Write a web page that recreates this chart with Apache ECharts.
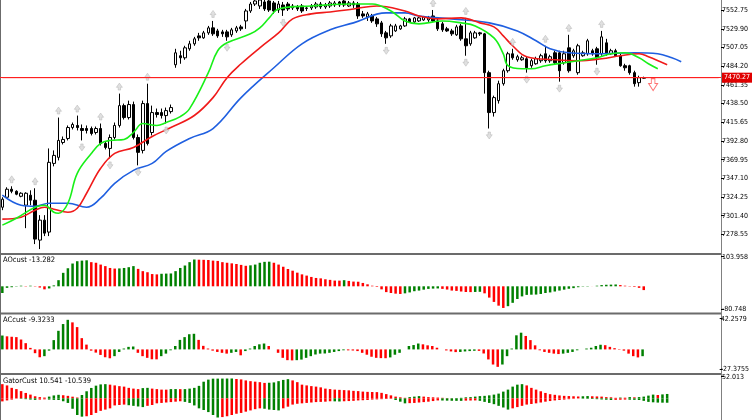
<!DOCTYPE html>
<html>
<head>
<meta charset="utf-8">
<script src="https://cdn.jsdelivr.net/npm/echarts@6/dist/echarts.min.js"></script>
<style>
html,body{margin:0;padding:0;background:#fff}
#chart{width:752px;height:420px}
</style>
</head>
<body>
<div id="chart"></div>
<script>
// bars: [open, close, low, high]
var candles = [
[7311.8,7321.6,7308.2,7324.0],[7324.0,7333.8,7322.8,7336.2],[7333.8,7331.3,7328.9,7337.4],[7331.3,7327.7,7326.5,7332.5],
[7325.2,7328.9,7324.0,7330.1],[7314.3,7328.9,7286.2,7330.1],[7326.5,7320.4,7314.3,7332.5],[7320.4,7272.8,7266.7,7335.0],
[7271.6,7296.0,7260.6,7302.1],[7296.0,7280.1,7276.5,7302.1],[7281.4,7366.7,7276.5,7383.7],[7365.4,7375.2,7361.8,7381.3],
[7372.8,7393.5,7369.1,7421.5],[7391.0,7394.7,7388.6,7398.3],[7395.9,7409.3,7393.5,7411.8],[7409.3,7413.0,7406.9,7415.4],
[7411.8,7409.3,7405.7,7423.9],[7408.1,7405.7,7393.5,7413.0],[7408.1,7405.7,7402.0,7411.8],[7408.1,7402.0,7399.6,7410.5],
[7403.2,7408.1,7400.8,7410.5],[7408.1,7389.8,7387.4,7414.2],[7389.8,7384.9,7382.5,7392.3],[7383.7,7397.1,7371.5,7400.8],
[7397.1,7411.8,7394.7,7415.4],[7411.8,7436.1,7409.3,7450.8],[7436.1,7421.5,7419.1,7438.6],[7421.5,7437.4,7419.1,7442.2],
[7437.4,7397.1,7394.7,7441.0],[7397.1,7378.9,7363.0,7400.8],[7381.3,7438.6,7377.6,7442.2],[7438.6,7389.8,7387.4,7462.9],
[7403.2,7427.6,7399.6,7436.1],[7427.6,7425.2,7421.5,7432.5],[7427.6,7423.9,7420.3,7432.5],[7423.9,7430.0,7414.2,7433.7],
[7428.8,7433.7,7426.4,7437.4],[7486.1,7500.7,7482.4,7505.6],[7497.1,7494.6,7487.3,7503.2],[7494.6,7506.8,7492.2,7509.3],
[7505.6,7511.7,7503.2,7515.4],[7511.7,7517.8,7509.3,7520.2],[7521.4,7519.0,7515.4,7525.1],[7519.0,7525.1,7517.8,7527.5],
[7525.1,7531.2,7522.7,7533.6],[7531.2,7523.9,7521.4,7539.7],[7527.5,7521.4,7519.0,7530.0],[7526.3,7523.9,7520.2,7528.8],
[7526.3,7520.2,7515.4,7528.8],[7522.7,7528.8,7520.2,7531.2],[7527.5,7531.2,7525.1,7533.6],[7532.4,7530.0,7527.5,7534.9],
[7539.7,7551.9,7530.0,7554.4],[7551.9,7560.4,7549.5,7562.9],[7560.4,7564.1,7558.0,7566.5],[7558.0,7565.3,7554.4,7567.8],
[7562.9,7554.4,7551.9,7566.5],[7564.1,7553.1,7550.7,7565.3],[7561.7,7551.9,7548.3,7564.1],[7553.1,7560.4,7549.5,7564.1],
[7559.2,7553.1,7545.8,7562.9],[7560.4,7554.4,7551.9,7562.9],[7555.6,7558.0,7553.1,7560.4],[7556.8,7554.4,7551.9,7559.2],
[7558.0,7551.9,7549.5,7560.4],[7555.6,7555.0,7551.9,7558.0],[7555.6,7558.0,7553.1,7560.4],[7556.8,7560.4,7554.4,7562.9],
[7560.4,7556.8,7554.4,7562.9],[7556.8,7559.2,7554.4,7561.7],[7558.0,7561.7,7555.6,7564.1],[7559.2,7561.7,7556.8,7564.1],
[7562.9,7559.2,7556.8,7564.1],[7564.1,7559.2,7556.8,7565.3],[7558.0,7561.7,7556.8,7564.1],[7561.7,7559.2,7555.6,7564.1],
[7560.4,7545.8,7542.2,7562.9],[7548.3,7545.8,7543.4,7551.9],[7544.6,7548.3,7539.7,7550.7],[7545.8,7539.7,7537.3,7548.3],
[7542.2,7536.1,7532.4,7544.6],[7537.3,7523.9,7520.2,7539.7],[7525.1,7519.0,7511.7,7527.5],[7521.4,7533.6,7519.0,7536.1],
[7527.5,7533.6,7526.3,7536.1],[7530.0,7533.6,7528.8,7534.9],[7533.6,7542.2,7532.4,7544.6],[7542.2,7538.5,7537.3,7543.4],
[7538.5,7543.4,7537.3,7544.6],[7539.7,7543.4,7538.5,7544.6],[7540.9,7544.6,7539.7,7545.8],[7540.9,7543.4,7538.5,7545.8],
[7545.8,7539.7,7538.5,7553.1],[7539.7,7530.0,7527.5,7542.2],[7536.1,7528.8,7526.3,7538.5],[7530.0,7527.5,7526.3,7532.4],
[7527.5,7523.9,7521.4,7530.0],[7522.7,7532.4,7521.4,7534.9],[7533.6,7517.8,7515.4,7536.1],[7517.8,7509.3,7497.1,7543.4],
[7511.7,7525.1,7509.3,7527.5],[7519.0,7525.1,7517.8,7527.5],[7525.1,7523.9,7521.4,7526.3],[7523.9,7476.4,7450.8,7525.1],
[7476.4,7427.6,7408.1,7478.8],[7427.6,7445.9,7422.7,7448.3],[7442.2,7462.9,7438.6,7466.6],[7462.9,7478.8,7460.5,7481.2],
[7478.8,7499.5,7476.4,7501.9],[7499.5,7494.6,7492.2,7505.6],[7492.2,7495.9,7489.8,7498.3],[7492.2,7494.6,7491.0,7497.1],
[7493.4,7482.4,7476.4,7495.9],[7484.9,7491.0,7482.4,7493.4],[7487.3,7493.4,7486.1,7495.9],[7491.0,7497.1,7488.5,7499.5],
[7499.5,7491.0,7488.5,7509.3],[7491.0,7495.9,7488.5,7498.3],[7500.7,7488.5,7486.1,7503.2],[7500.7,7478.8,7465.4,7503.2],
[7488.5,7499.5,7486.1,7503.2],[7506.8,7478.8,7476.4,7522.7],[7497.1,7503.2,7494.6,7505.6],[7476.4,7509.3,7473.9,7511.7],
[7497.1,7500.7,7495.9,7503.2],[7499.5,7515.4,7497.1,7517.8],[7503.2,7499.5,7497.1,7505.6],[7505.6,7494.6,7486.1,7508.0],
[7499.5,7520.2,7497.1,7527.5],[7512.9,7499.5,7497.1,7517.8],[7499.5,7503.2,7498.3,7505.6],[7503.2,7497.1,7495.9,7505.6],
[7497.1,7484.9,7483.7,7499.5],[7484.9,7482.4,7478.8,7487.3],[7484.9,7476.4,7473.9,7486.1],[7476.4,7462.9,7459.3,7478.8],
[7464.2,7470.3,7459.3,7472.7],[7469.6,7470.27,7469.0,7471.5]
];

// alligator lines, [bar, price] points
var jawPoints = [[0,7326.5],[4,7314.3],[7,7313.0],[10,7316.7],[14,7316.7],[18,7311.8],[21,7322.8],[24,7341.1],[28,7356.9],
[32,7365.4],[35,7380.1],[40,7395.9],[45,7408.1],[51,7445.9],[58,7482.4],[64,7511.7],[70,7528.8],[75,7537.3],[82,7549.5],
[86,7549.5],[89,7545.8],[96,7542.2],[104,7537.3],[110,7527.5],[114,7515.4],[117,7505.6],[121,7500.7],[128,7499.5],
[135,7500.7],[140,7499.5],[143,7494.6],[145,7489.8]];
var teethPoints = [[0,7297.2],[4,7299.6],[7,7308.2],[9,7311.8],[11,7309.4],[14,7305.7],[16,7310.6],[18,7328.9],[21,7359.4],
[24,7377.6],[28,7384.9],[32,7398.4],[36,7409.3],[41,7424.0],[45,7445.9],[48,7470.3],[51,7487.3],[55,7506.8],[59,7525.1],
[62,7542.2],[66,7548.3],[70,7550.7],[75,7554.3],[80,7558.0],[86,7551.9],[89,7545.8],[93,7542.2],[98,7543.4],[102,7537.3],
[105,7532.4],[107,7521.4],[109,7509.3],[112,7495.9],[118,7492.2],[123,7491.0],[128,7493.4],[132,7497.1],[136,7499.5],
[138,7495.9],[142,7486.1]];
var lipsPoints = [[0,7289.9],[3,7298.4],[7,7311.8],[9,7314.3],[11,7305.7],[12,7304.5],[14,7316.7],[16,7353.3],[19,7377.6],
[21,7389.8],[23,7393.5],[26,7394.7],[28,7403.2],[30,7414.2],[33,7411.8],[35,7415.4],[38,7422.7],[40,7432.5],[44,7476.4],
[46,7503.2],[48,7512.9],[53,7523.9],[55,7531.2],[57,7543.4],[59,7554.4],[66,7558.0],[75,7560.4],[79,7560.4],[83,7551.9],
[86,7539.7],[89,7536.1],[94,7539.7],[98,7537.3],[101,7533.6],[105,7519.0],[107,7499.5],[108,7484.9],[111,7481.2],
[113,7481.2],[116,7484.9],[120,7488.5],[123,7491.0],[127,7494.6],[130,7499.5],[133,7500.7],[136,7494.6],[138,7487.3],
[140,7481.2]];

var fractalUp = [[2,7337.4],[7,7335.0],[12,7421.5],[16,7423.9],[21,7414.2],[25,7450.8],[31,7462.9],[45,7539.7],[92,7553.1],
[99,7543.4],[109,7505.6],[116,7509.3],[121,7522.7],[128,7527.5]];
var fractalDown = [[17,7393.5],[23,7371.5],[29,7363.0],[35,7414.2],[48,7515.4],[60,7545.8],[82,7511.7],[99,7497.1],
[104,7408.1],[112,7476.4],[119,7465.4],[127,7486.1]];
var sellSignal = [[139,7461.7]];
var bidPrice = 7470.27;
var priceTicks = [7552.75,7529.90,7507.05,7484.20,7461.35,7438.50,7415.65,7392.80,7369.95,7347.10,7324.25,7301.40,7278.55];

var aoValues = [-23.6,-5.4,-3.2,-1.1,2.1,1.1,2.1,-1.1,-4.3,-10.7,
-7.5,3.2,21.5,47.3,63.4,80,88.1,90.2,91.3,84.8,
82.7,76.3,70.9,64.4,62.3,62.8,64.4,67.1,70.9,61.2,
53.2,49.4,43,41.9,44,44.6,45.1,53.2,64.4,73,
84.8,94.1,93.4,93,92.4,90.2,89.1,84.8,82.7,80.6,
78.4,75.2,72,73.6,76.3,82.7,85.9,86.5,82.7,76.3,
68.7,60.8,54.8,47.9,41.9,37.6,32.9,29.3,27.9,24.7,
22.6,20.1,19.9,21.5,18.9,16.6,16.1,11.8,7,2.1,
-2.1,-10.7,-20.4,-23.6,-25.8,-26.9,-24.7,-21.5,-17.2,-15,
-11.8,-9.1,-8.1,-7.5,-9.1,-11.4,-15,-16.1,-18.3,-20,
-20.4,-19.9,-19.3,-24.7,-39.7,-54.8,-68,-76,-69.8,-58,
-44.6,-35.4,-30.1,-29.5,-29,-26.9,-23.6,-21.5,-18.3,-15,
-11.8,-8.6,-6.4,-3.2,-1.1,1.1,0.2,2.1,4.3,5.4,
5.9,6.4,4.3,2.1,-1.1,-2.1,-5.4,-13.282];
var aoRange = [-80.748, 103.958];

var acValues = [19.1,18,17.4,16.9,13.6,8.6,2.1,-5.2,-10.8,-9.3,
-1.7,12.8,25.6,34.9,40.7,37.2,30.7,15.5,6.6,-1.7,
-4.4,-7.6,-10.8,-12.2,-9.3,-3.5,1.2,3.5,4,-4.7,
-9.3,-11.6,-13.6,-13.7,-9.3,-5.8,-1.2,4.7,13.1,16.9,
20.9,21.5,13.1,4.9,1.2,-1.7,-3.5,-4.7,-5.8,-4.7,
-3.5,-8.1,-2.3,1.2,4.7,7,8.1,4.7,0,-4.7,
-11.6,-14.8,-15.1,-14.8,-14,-11.6,-9.3,-7,-5.8,-5.6,
-4.7,-3.5,-2.3,-1.2,-1.3,-1.5,-2.3,-4.7,-7.3,-10.1,
-11.6,-12,-12.1,-11,-7.3,-4.7,0,4.7,6,8.1,
7,5.6,4.7,2.3,0,-1.4,-2.8,-3.7,-3.5,-2.8,
-2.3,-1.9,-2,-5.6,-13.8,-20.8,-24,-20.8,-9.3,1.2,
19.4,23,18.5,12.8,5.6,-1.2,-3.5,-4.7,-5.8,-6.4,
-5.8,-4.7,-3.5,-1.2,0,1.2,2.3,4.7,6.4,5.8,
3.5,1.7,0.6,-1.7,-5.8,-9.3,-11,-9.3233];
var acRange = [-27.3755, 42.2579];

var gatorUp = [34.1,31.1,25.2,22.2,17.4,13,9,5,3,1.9,
4.2,7,8.5,7.5,6,4,2,8,17,25,
30.5,33.5,34.1,32.9,31.1,29.3,28.2,25.2,23.4,22.2,
24.6,25.2,23.4,22.2,21,20.9,22.2,22.3,22.1,22.2,
23.4,25.2,30,40,45,47.3,47.4,47.5,47.6,47.7,
46.5,45.5,43.1,41.3,40.1,38.9,37.1,37.5,38.3,41.3,
44.3,46.1,43.1,38.9,32.9,31.1,29.4,28.2,26.4,23.4,
22.2,21,20.4,19.8,19.2,18,17.4,16.2,15.6,15.3,
15,13.2,10.2,7.2,4.2,2.5,1.3,3,4.2,5.4,
4.2,3,2.5,1.9,1.3,0.7,0.4,0.7,1.3,2.5,
3,4.2,5.4,6,7.2,9,11.4,16.2,21,28.2,
32.9,34.1,31.1,25.2,21,17,13,10,8.5,7,
6,5.5,5,4.5,5,5.5,5,4.6,4.2,3,
2.5,1.3,1.9,1.6,3,2.5,3,4.2,6.6,9,
8,9.5,10.541];
var gatorDown = [-7.3,-5,-3,-0.5,-1,-2,-3,-3.7,-3,-2.4,
-3,-3.7,-4,-7,-11,-25,-40,-44,-43,-40,
-35,-30,-27,-24,-17,-16,-15,-16.5,-18,-19.5,
-21,-18,-16,-12,-11,-10,-9,-8,-7,-8.5,
-11,-17,-24,-28,-33,-40,-46,-45,-43,-40,
-37,-35,-32,-29,-26,-24,-25,-27,-28,-29,
-24,-20,-15,-13,-12,-11,-10,-9,-8.5,-8,
-7,-7.2,-7.5,-7,-6.5,-6,-5,-4.5,-4,-3,
-2.5,-2,-1.5,-1,-4,-8,-12,-11.5,-11,-10,
-9,-8,-6.5,-5,-5.2,-5.5,-5.8,-6,-6,-5.5,
-5.2,-5,-6,-8.5,-11,-14,-18,-22,-27,-24,
-21,-18,-15,-13.5,-12,-10,-8,-6.5,-5,-4,
-3,-2,-1,-0.3,-0.8,-1.2,-1.6,-2,-2.7,-3.3,
-4,-3.6,-3.3,-3,-3.3,-3.6,-4,-6,-8.5,-9.5,
-10.2,-10.4,-10.539];
var gatorTop = 52.013;

var SLOTS = 154; // bar slots incl. empty space on the right
var UP = '#008000', DOWN = '#ff0000';
var FONT = "'Liberation Sans Narrow','DejaVu Sans Condensed','Liberation Sans',sans-serif";

var cats = [];
for (var i = 0; i < SLOTS; i++) cats.push(String(i));

// green when the bar grows vs the previous one, red when it shrinks
function trendBars(values, useAbs, firstColor) {
    var prev = firstColor;
    return values.map(function (v, i) {
        var c = prev;
        if (i > 0) {
            var a = useAbs ? Math.abs(v) : v;
            var b = useAbs ? Math.abs(values[i - 1]) : values[i - 1];
            if (a > b) c = UP; else if (a < b) c = DOWN;
        }
        prev = c;
        return {value: v, itemStyle: {color: c}};
    });
}

function xAx(idx) {
    return {type: 'category', gridIndex: idx, data: cats, boundaryGap: true, show: false};
}
function yAx(idx, min, max, ticks, fmt) {
    return {
        type: 'value', gridIndex: idx, position: 'right', min: min, max: max, scale: true,
        axisLine: {show: false}, splitLine: {show: false},
        axisTick: {show: true, length: 3, customValues: ticks, lineStyle: {color: '#000', width: 1}},
        axisLabel: {customValues: ticks, margin: 1, fontSize: 7, color: '#000', fontFamily: FONT, formatter: fmt}
    };
}

var upArrow = 'path://M5,0 L10,6 L7,6 L7,10 L3,10 L3,6 L0,6 Z';
var downArrow = 'path://M3,0 L7,0 L7,4 L10,4 L5,10 L0,4 L3,4 Z';

function hLine(y, w) {
    return {type: 'line', shape: {x1: 0, y1: y, x2: 721, y2: y}, style: {stroke: '#6b6b6b', lineWidth: w}, silent: true};
}

function alligatorLine(points, color) {
    return {type: 'line', xAxisIndex: 0, yAxisIndex: 0, data: points, smooth: 0.4, showSymbol: false, z: 3,
            lineStyle: {color: color, width: 1.6}, itemStyle: {color: color}};
}

// bid price: a flat red line over every bar slot, plus the price tag on the axis
var bidLine = {
    type: 'line', xAxisIndex: 0, yAxisIndex: 0, z: 5, showSymbol: false, silent: true,
    data: cats.map(function () { return bidPrice; }),
    lineStyle: {color: '#ff2020', width: 1}, itemStyle: {color: '#ff2020'},
    markLine: {
        silent: true, symbol: 'none', animation: false,
        lineStyle: {color: '#ff2020', width: 1, type: 'solid'},
        label: {position: 'end', distance: 1, formatter: bidPrice.toFixed(2), color: '#fff', backgroundColor: '#e00000',
                fontSize: 7, fontFamily: FONT, padding: [2, 2, 1, 2]},
        data: [{yAxis: bidPrice}]
    }
};

var option = {
    animation: false,
    backgroundColor: '#fff',
    grid: [
        {left: 0, right: 31, top: -1, height: 254},
        {left: 0, right: 31, top: 256.7, height: 52.6},
        {left: 0, right: 31, top: 318.7, height: 50.6},
        {left: 0, right: 31, top: 376.7, height: 58}
    ],
    xAxis: [xAx(0), xAx(1), xAx(2), xAx(3)],
    yAxis: [
        yAx(0, 7255.8, 7565.3, priceTicks, function (v) { return v.toFixed(2); }),
        yAx(1, aoRange[0], aoRange[1], [aoRange[1], aoRange[0]], function (v) { return String(v); }),
        yAx(2, acRange[0], acRange[1], [acRange[1], acRange[0]], function (v) { return String(v); }),
        yAx(3, -gatorTop, gatorTop, [gatorTop], function (v) { return String(v); })
    ],
    graphic: [
        hLine(254, 2), hLine(313.5, 2), hLine(374, 2),
        {type: 'line', shape: {x1: 0.5, y1: 0, x2: 0.5, y2: 420}, style: {stroke: '#6b6b6b', lineWidth: 1}, silent: true},
        {type: 'line', shape: {x1: 721.5, y1: 0, x2: 721.5, y2: 420}, style: {stroke: '#808080', lineWidth: 1}, silent: true},
        {type: 'text', left: 3, top: 256, style: {text: 'AOcust ' + aoValues[aoValues.length - 1], fontSize: 7.5, fontFamily: FONT, fill: '#000'}},
        {type: 'text', left: 3, top: 316, style: {text: 'ACcust ' + acValues[acValues.length - 1], fontSize: 7.5, fontFamily: FONT, fill: '#000'}},
        {type: 'text', left: 3, top: 377, style: {text: 'GatorCust ' + gatorUp[gatorUp.length - 1] + ' ' + gatorDown[gatorDown.length - 1], fontSize: 7.5, fontFamily: FONT, fill: '#000'}}
    ],
    series: [
        {
            type: 'candlestick', xAxisIndex: 0, yAxisIndex: 0, data: candles, barWidth: 3, z: 2,
            itemStyle: {color: '#fff', color0: '#000', borderColor: '#000', borderColor0: '#000', borderWidth: 1}
        },
        alligatorLine(jawPoints, '#1f5fe0'),
        alligatorLine(teethPoints, '#f01a1a'),
        alligatorLine(lipsPoints, '#18f018'),
        bidLine,
        {type: 'scatter', xAxisIndex: 0, yAxisIndex: 0, data: fractalUp, symbol: upArrow, symbolSize: [6, 7],
         symbolOffset: [0, -7], z: 4, itemStyle: {color: '#d8d8d8', borderColor: '#a8a8a8', borderWidth: 0.5}},
        {type: 'scatter', xAxisIndex: 0, yAxisIndex: 0, data: fractalDown, symbol: downArrow, symbolSize: [6, 7],
         symbolOffset: [0, 7], z: 4, itemStyle: {color: '#d8d8d8', borderColor: '#a8a8a8', borderWidth: 0.5}},
        {type: 'scatter', xAxisIndex: 0, yAxisIndex: 0, data: sellSignal, symbol: downArrow, symbolSize: [9, 12],
         z: 4, itemStyle: {color: '#fff', borderColor: '#ff5050', borderWidth: 1}},
        {type: 'bar', xAxisIndex: 1, yAxisIndex: 1, data: trendBars(aoValues, false, UP), barWidth: 2.5},
        {type: 'bar', xAxisIndex: 2, yAxisIndex: 2, data: trendBars(acValues, false, UP), barWidth: 2.5},
        {type: 'bar', xAxisIndex: 3, yAxisIndex: 3, data: trendBars(gatorUp, true, DOWN), barWidth: 2.5, barGap: '-100%'},
        {type: 'bar', xAxisIndex: 3, yAxisIndex: 3, data: trendBars(gatorDown, true, DOWN), barWidth: 2.5, barGap: '-100%'}
    ]
};

var myChart = echarts.init(document.getElementById('chart'));
myChart.setOption(option);
</script>
</body>
</html>
